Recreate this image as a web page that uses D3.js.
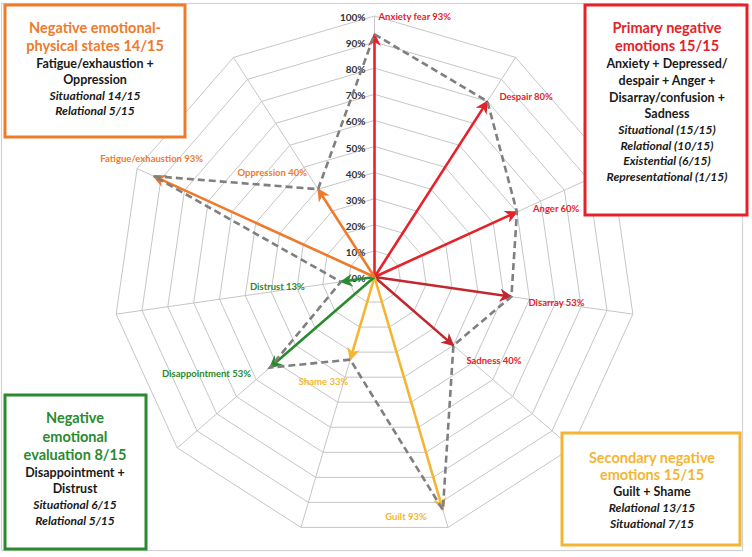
<!DOCTYPE html>
<html>
<head>
<meta charset="utf-8">
<script src="https://cdn.jsdelivr.net/npm/d3@7"></script>
<style>
  body { margin: 0; background: #fff; }
  svg { display: block; font-family: Lato, "Open Sans", sans-serif; }
</style>
</head>
<body>
<svg id="chart" width="752" height="557"></svg>
<script>
// axes of the radar, clockwise from the top
var axes = ['Anxiety fear', 'Despair', 'Anger', 'Disarray', 'Sadness', 'Guilt', 'Shame',
            'Disappointment', 'Distrust', 'Fatigue/exhaustion', 'Oppression'];
// share of participants (%)
var values = [93, 80, 60, 53, 40, 93, 33, 53, 13, 93, 40];
// group each axis belongs to
var groups = ['primary', 'primary', 'primary', 'primary', 'primary', 'secondary', 'secondary',
              'evaluation', 'evaluation', 'physical', 'physical'];
// ring tick labels
var tickValues = [0, 10, 20, 30, 40, 50, 60, 70, 80, 90, 100];

// box texts
var physicalBox = { title: ['Negative emotional-', 'physical states 14/15'],
  body: ['Fatigue/exhaustion +', 'Oppression'], italic: ['Situational 14/15', 'Relational 5/15'] };
var primaryBox = { title: ['Primary negative', 'emotions 15/15'],
  body: ['Anxiety + Depressed/', 'despair + Anger +', 'Disarray/confusion +', 'Sadness'],
  italic: ['Situational (15/15)', 'Relational (10/15)', 'Existential (6/15)', 'Representational (1/15)'] };
var evaluationBox = { title: ['Negative', 'emotional', 'evaluation 8/15'],
  body: ['Disappointment +', 'Distrust'], italic: ['Situational 6/15', 'Relational 5/15'] };
var secondaryBox = { title: ['Secondary negative', 'emotions 15/15'],
  body: ['Guilt + Shame'], italic: ['Relational 13/15', 'Situational 7/15'] };

var colors = { primary: '#e5222a', secondary: '#f4b533', evaluation: '#2a8a2e', physical: '#ee7b2c' };
// Disarray and Sadness arrows are a darker red
var arrowColor = function(d, i) { return (i === 3 || i === 4) ? '#c4262e' : colors[groups[i]]; };

var svg = d3.select('#chart');
var cx = 374.5, cy = 277, R = 261;
var n = axes.length;

var r = d3.scaleLinear().domain([0, 100]).range([0, R]);
var angle = d3.scaleLinear().domain([0, n]).range([0, 2 * Math.PI]);

function px(i, v) { return cx + r(v) * Math.sin(angle(i)); }
function py(i, v) { return cy - r(v) * Math.cos(angle(i)); }

// outer frame
svg.append('rect')
  .attr('x', 1.5).attr('y', 3.5).attr('width', 741).attr('height', 547)
  .attr('fill', 'none').attr('stroke', '#d2d2d2').attr('stroke-width', 1.2);

// grid rings
var grid = svg.append('g');
grid.selectAll('polygon')
  .data(tickValues.slice(1))
  .enter()
  .append('polygon')
  .attr('points', function(t) {
      return d3.range(n).map(function(i) { return px(i, t) + ',' + py(i, t); }).join(' ');
  })
  .attr('fill', 'none')
  .attr('stroke', '#c6c6c6')
  .attr('stroke-width', 1);

// spokes
grid.selectAll('line')
  .data(axes)
  .enter()
  .append('line')
  .attr('x1', cx).attr('y1', cy)
  .attr('x2', function(d, i) { return px(i, 100); })
  .attr('y2', function(d, i) { return py(i, 100); })
  .attr('stroke', '#c6c6c6')
  .attr('stroke-width', 1);

// tick labels
svg.append('g').selectAll('text')
  .data(tickValues)
  .enter()
  .append('text')
  .attr('x', cx - 9)
  .attr('y', function(t) { return py(0, t) + 1; })
  .attr('text-anchor', 'end')
  .attr('dominant-baseline', 'central')
  .attr('font-size', 10)
  .attr('font-weight', 'bold')
  .attr('fill', '#333')
  .text(function(t) { return t + '%'; });

// arrow markers, one per colour
var defs = svg.append('defs');
var markerColors = d3.range(n).map(arrowColor).filter(function(c, i, a) { return a.indexOf(c) === i; });
defs.selectAll('marker')
  .data(markerColors)
  .enter()
  .append('marker')
  .attr('id', function(c) { return 'arr' + c.slice(1); })
  .attr('viewBox', '0 0 10 10')
  .attr('refX', 9).attr('refY', 5)
  .attr('markerWidth', 5).attr('markerHeight', 5)
  .attr('markerUnits', 'strokeWidth')
  .attr('orient', 'auto')
  .append('path')
  .attr('d', 'M0,0 L10,5 L0,10 L3,5 Z')
  .attr('fill', function(c) { return c; });

// arrows from centre
svg.append('g').selectAll('line')
  .data(values)
  .enter()
  .append('line')
  .attr('x1', cx).attr('y1', cy)
  .attr('x2', function(d, i) { return px(i, d); })
  .attr('y2', function(d, i) { return py(i, d); })
  .attr('stroke', arrowColor)
  .attr('stroke-width', 2.6)
  .attr('marker-end', function(d, i) { return 'url(#arr' + arrowColor(d, i).slice(1) + ')'; });

// dashed outline through the values
var line = d3.lineRadial()
  .angle(function(d, i) { return angle(i); })
  .radius(function(d) { return r(d); })
  .curve(d3.curveLinearClosed);
svg.append('path')
  .datum(values)
  .attr('transform', 'translate(' + cx + ',' + cy + ')')
  .attr('d', line)
  .attr('fill', 'none')
  .attr('stroke', '#7f7f7f')
  .attr('stroke-width', 2.6)
  .attr('stroke-dasharray', '7,4');

// value labels: offset from the arrow tip
var labelPos = [
  { dx: 4, dy: 0, a: 'start', atMax: true },
  { dx: 12, dy: -5, a: 'start' },
  { dx: 16, dy: -3, a: 'start' },
  { dx: 17, dy: 6, a: 'start' },
  { dx: 13, dy: 15, a: 'start' },
  { dx: -16, dy: 7, a: 'end' },
  { dx: -2, dy: 22, a: 'end' },
  { dx: -19, dy: 6, a: 'end' },
  { dx: -36, dy: 5, a: 'end' },
  { dx: -2, dy: -18, a: 'middle' },
  { dx: -11, dy: -17, a: 'end' }
];
svg.append('g').selectAll('text')
  .data(values)
  .enter()
  .append('text')
  .attr('x', function(d, i) { return px(i, labelPos[i].atMax ? 100 : d) + labelPos[i].dx; })
  .attr('y', function(d, i) { return py(i, labelPos[i].atMax ? 100 : d) + labelPos[i].dy; })
  .attr('text-anchor', function(d, i) { return labelPos[i].a; })
  .attr('dominant-baseline', 'central')
  .attr('font-size', 9.5)
  .attr('font-weight', 'bold')
  .attr('fill', function(d, i) { return colors[groups[i]]; })
  .text(function(d, i) { return axes[i] + ' ' + d + '%'; });

// corner boxes
function drawBox(box, rect, color, tx, ys) {
  svg.append('rect')
    .attr('x', rect[0]).attr('y', rect[1]).attr('width', rect[2]).attr('height', rect[3])
    .attr('fill', '#fff').attr('stroke', color).attr('stroke-width', 3);
  var lines = box.title.map(function(t) { return { t: t, k: 'title' }; })
    .concat(box.body.map(function(t) { return { t: t, k: 'body' }; }))
    .concat(box.italic.map(function(t) { return { t: t, k: 'italic' }; }));
  svg.append('g').selectAll('text')
    .data(lines)
    .enter()
    .append('text')
    .attr('x', tx)
    .attr('y', function(d, i) { return ys[i]; })
    .attr('text-anchor', 'middle')
    .attr('dominant-baseline', 'central')
    .attr('font-weight', 'bold')
    .attr('font-style', function(d) { return d.k === 'italic' ? 'italic' : 'normal'; })
    .attr('font-size', function(d) { return d.k === 'title' ? 14.5 : d.k === 'body' ? 12.5 : 12; })
    .attr('fill', function(d) { return d.k === 'title' ? color : '#1a1a1a'; })
    .text(function(d) { return d.t; });
}

drawBox(physicalBox, [5, 5, 180, 132], colors.physical, 95, [27, 45, 63, 79, 95, 110]);
drawBox(primaryBox, [585, 5, 162, 210], colors.primary, 667, [27, 45, 63, 80, 97, 113, 129, 145, 160, 176]);
drawBox(evaluationBox, [5, 395, 141, 154], colors.evaluation, 75, [417, 436, 454, 472, 488, 504, 520]);
drawBox(secondaryBox, [562, 433, 178, 112], colors.secondary, 652, [457, 474, 491, 507, 523]);
</script>
</body>
</html>
